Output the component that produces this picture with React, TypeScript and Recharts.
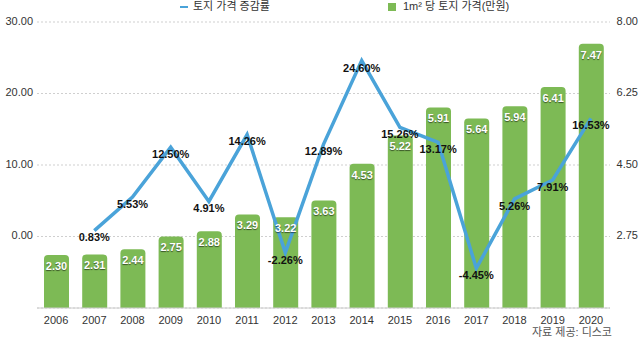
import React from 'react';
import { ComposedChart, Bar, Line, XAxis, YAxis, CartesianGrid, LabelList } from 'recharts';

const years = ['2006', '2007', '2008', '2009', '2010', '2011', '2012', '2013', '2014', '2015', '2016', '2017', '2018', '2019', '2020'];
const pricePerM2 = [2.30, 2.31, 2.44, 2.75, 2.88, 3.29, 3.22, 3.63, 4.53, 5.22, 5.91, 5.64, 5.94, 6.41, 7.47];
const changeRate: (number | null)[] = [null, 0.83, 5.53, 12.50, 4.91, 14.26, -2.26, 12.89, 24.60, 15.26, 13.17, -4.45, 5.26, 7.91, 16.53];
const leftTicks = [0, 10, 20, 30];
const rightTicks = [2.75, 4.5, 6.25, 8];
const lineName = '토지 가격 증감률';
const barName = '1m² 당 토지 가격(만원)';
const sourceText = '자료 제공: 디스코';

const data = years.map((y, i) => ({ year: y, price: pricePerM2[i], rate: changeRate[i] }));

const FONT = '"Liberation Sans", "Noto Sans CJK KR", Arial, sans-serif';
const GREEN = '#7dba55';
const BLUE = '#4aa3d9';

const BarLabel = (props: any) => {
  const { x, y, width, value } = props;
  return (
    <text
      x={x + width / 2}
      y={y + 12}
      textAnchor="middle"
      dominantBaseline="middle"
      fill="#fff"
      fontSize={11}
      fontWeight={700}
      fontFamily={FONT}
      style={{ textShadow: '0 1px 1px rgba(0,0,0,0.55)' }}
    >
      {Number(value).toFixed(2)}
    </text>
  );
};

const LineLabel = (props: any) => {
  const { x, y, value } = props;
  if (value === null || value === undefined) return null;
  return (
    <text
      x={x}
      y={y + 8}
      textAnchor="middle"
      dominantBaseline="middle"
      fill="#111"
      fontSize={11}
      fontWeight={700}
      fontFamily={FONT}
    >
      {Number(value).toFixed(2)}%
    </text>
  );
};

const RightTick = (props: any) => {
  const { y, payload } = props;
  return (
    <text x={638} y={y} textAnchor="end" dominantBaseline="middle" fill="#333" fontSize={11} fontFamily={FONT}>
      {Number(payload.value).toFixed(2)}
    </text>
  );
};

const LeftTick = (props: any) => {
  const { y, payload } = props;
  return (
    <text x={33} y={y} textAnchor="end" dominantBaseline="middle" fill="#333" fontSize={11} fontFamily={FONT}>
      {Number(payload.value).toFixed(2)}
    </text>
  );
};

const BottomTick = (props: any) => {
  const { x, y, payload } = props;
  return (
    <text x={x} y={y + 5} textAnchor="middle" dominantBaseline="middle" fill="#333" fontSize={11} fontFamily={FONT}>
      {payload.value}
    </text>
  );
};

export default function App() {
  return (
    <div style={{ position: 'absolute', left: 0, top: 0, width: 640, height: 343, background: '#fff' }}>
      <ComposedChart width={640} height={343} data={data} margin={{ top: 22, right: 0, bottom: 0, left: 0 }}>
        <CartesianGrid yAxisId="left" vertical={false} stroke="#cfcfcf" strokeDasharray="2 2" />
        <XAxis
          dataKey="year"
          height={35}
          axisLine={{ stroke: '#cccccc' }}
          tickLine={false}
          tick={<BottomTick />}
          interval={0}
        />
        <YAxis
          yAxisId="left"
          width={37}
          domain={[-10, 30]}
          ticks={leftTicks}
          axisLine={false}
          tickLine={false}
          tick={<LeftTick />}
        />
        <YAxis
          yAxisId="right"
          orientation="right"
          width={30}
          domain={[1, 8]}
          ticks={rightTicks}
          axisLine={false}
          tickLine={false}
          tick={<RightTick />}
        />
        <Bar yAxisId="right" dataKey="price" fill={GREEN} barSize={25} radius={[4, 4, 0, 0]} isAnimationActive={false}>
          <LabelList dataKey="price" content={<BarLabel />} />
        </Bar>
        <Line
          yAxisId="left"
          dataKey="rate"
          type="linear"
          stroke={BLUE}
          strokeWidth={3.5}
          dot={false}
          activeDot={false}
          isAnimationActive={false}
        >
          <LabelList dataKey="rate" content={<LineLabel />} />
        </Line>
      </ComposedChart>
      <svg width={640} height={343} style={{ position: 'absolute', left: 0, top: 0, pointerEvents: 'none' }}>
        <line x1={180} y1={7} x2={188} y2={7} stroke={BLUE} strokeWidth={2} />
        <text x={193} y={7} dominantBaseline="middle" fill="#333" fontSize={11} fontFamily={FONT}>{lineName}</text>
        <rect x={388} y={3} width={8} height={8} fill={GREEN} />
        <text x={403} y={7} dominantBaseline="middle" fill="#333" fontSize={11} fontFamily={FONT}>{barName}</text>
        <text x={612} y={333} textAnchor="end" dominantBaseline="middle" fill="#555" fontSize={11} fontFamily={FONT}>{sourceText}</text>
      </svg>
    </div>
  );
}
